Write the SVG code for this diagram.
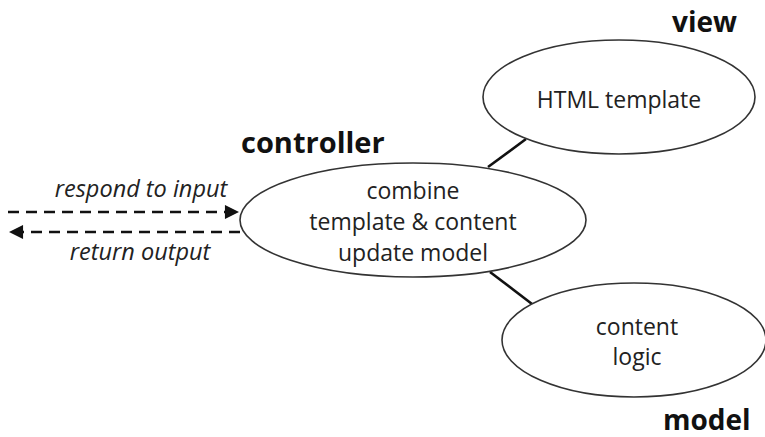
<svg xmlns="http://www.w3.org/2000/svg" width="765" height="437" viewBox="0 0 765 437">
<style>
.node ellipse{fill:#fff;stroke:#333;stroke-width:1.6}
.t{font-family:"Open Sans","Liberation Sans",sans-serif;font-size:23px;fill:#222;text-anchor:middle}
.lbl{font-family:"Open Sans","Liberation Sans",sans-serif;font-size:28px;font-weight:bold;fill:#111}
.it{font-family:"Open Sans","Liberation Sans",sans-serif;font-size:23.5px;font-style:italic;fill:#222;text-anchor:middle}
.conn line{stroke:#111;stroke-width:2.6}
.dash{stroke:#111;stroke-width:2.6;stroke-dasharray:11 7;fill:none}
</style>
<defs>
<marker id="ah" viewBox="0 0 10 10" refX="10" refY="5" markerWidth="6.2" markerHeight="5.4" markerUnits="strokeWidth" orient="auto">
<path d="M0,0 L10,5 L0,10 Z" fill="#111"/>
</marker>
</defs>
<rect width="765" height="437" fill="#fff"/>
<g id="connectors" class="conn">
<line x1="488" y1="167" x2="526" y2="139"/>
<line x1="490" y1="272" x2="532" y2="304"/>
<path class="dash" d="M8,212 H239" marker-end="url(#ah)"/>
<path class="dash" d="M240,232 H9" marker-end="url(#ah)"/>
<text class="it" x="141" y="197">respond to input</text>
<text class="it" x="140" y="260">return output</text>
</g>
<g id="view" class="node">
<ellipse cx="619" cy="97" rx="136" ry="57"/>
<text class="t" x="619" y="108">HTML template</text>
<text class="lbl" x="672" y="32">view</text>
</g>
<g id="controller" class="node">
<ellipse cx="413" cy="220" rx="173" ry="57"/>
<text class="t" x="413" y="199">combine</text>
<text class="t" x="413" y="230">template &amp; content</text>
<text class="t" x="413" y="261">update model</text>
<text class="lbl" x="241" y="153" style="font-size:29px">controller</text>
</g>
<g id="model" class="node">
<ellipse cx="634" cy="340" rx="132" ry="57"/>
<text class="t" x="637" y="335">content</text>
<text class="t" x="637" y="365">logic</text>
<text class="lbl" x="663" y="430">model</text>
</g>
</svg>
